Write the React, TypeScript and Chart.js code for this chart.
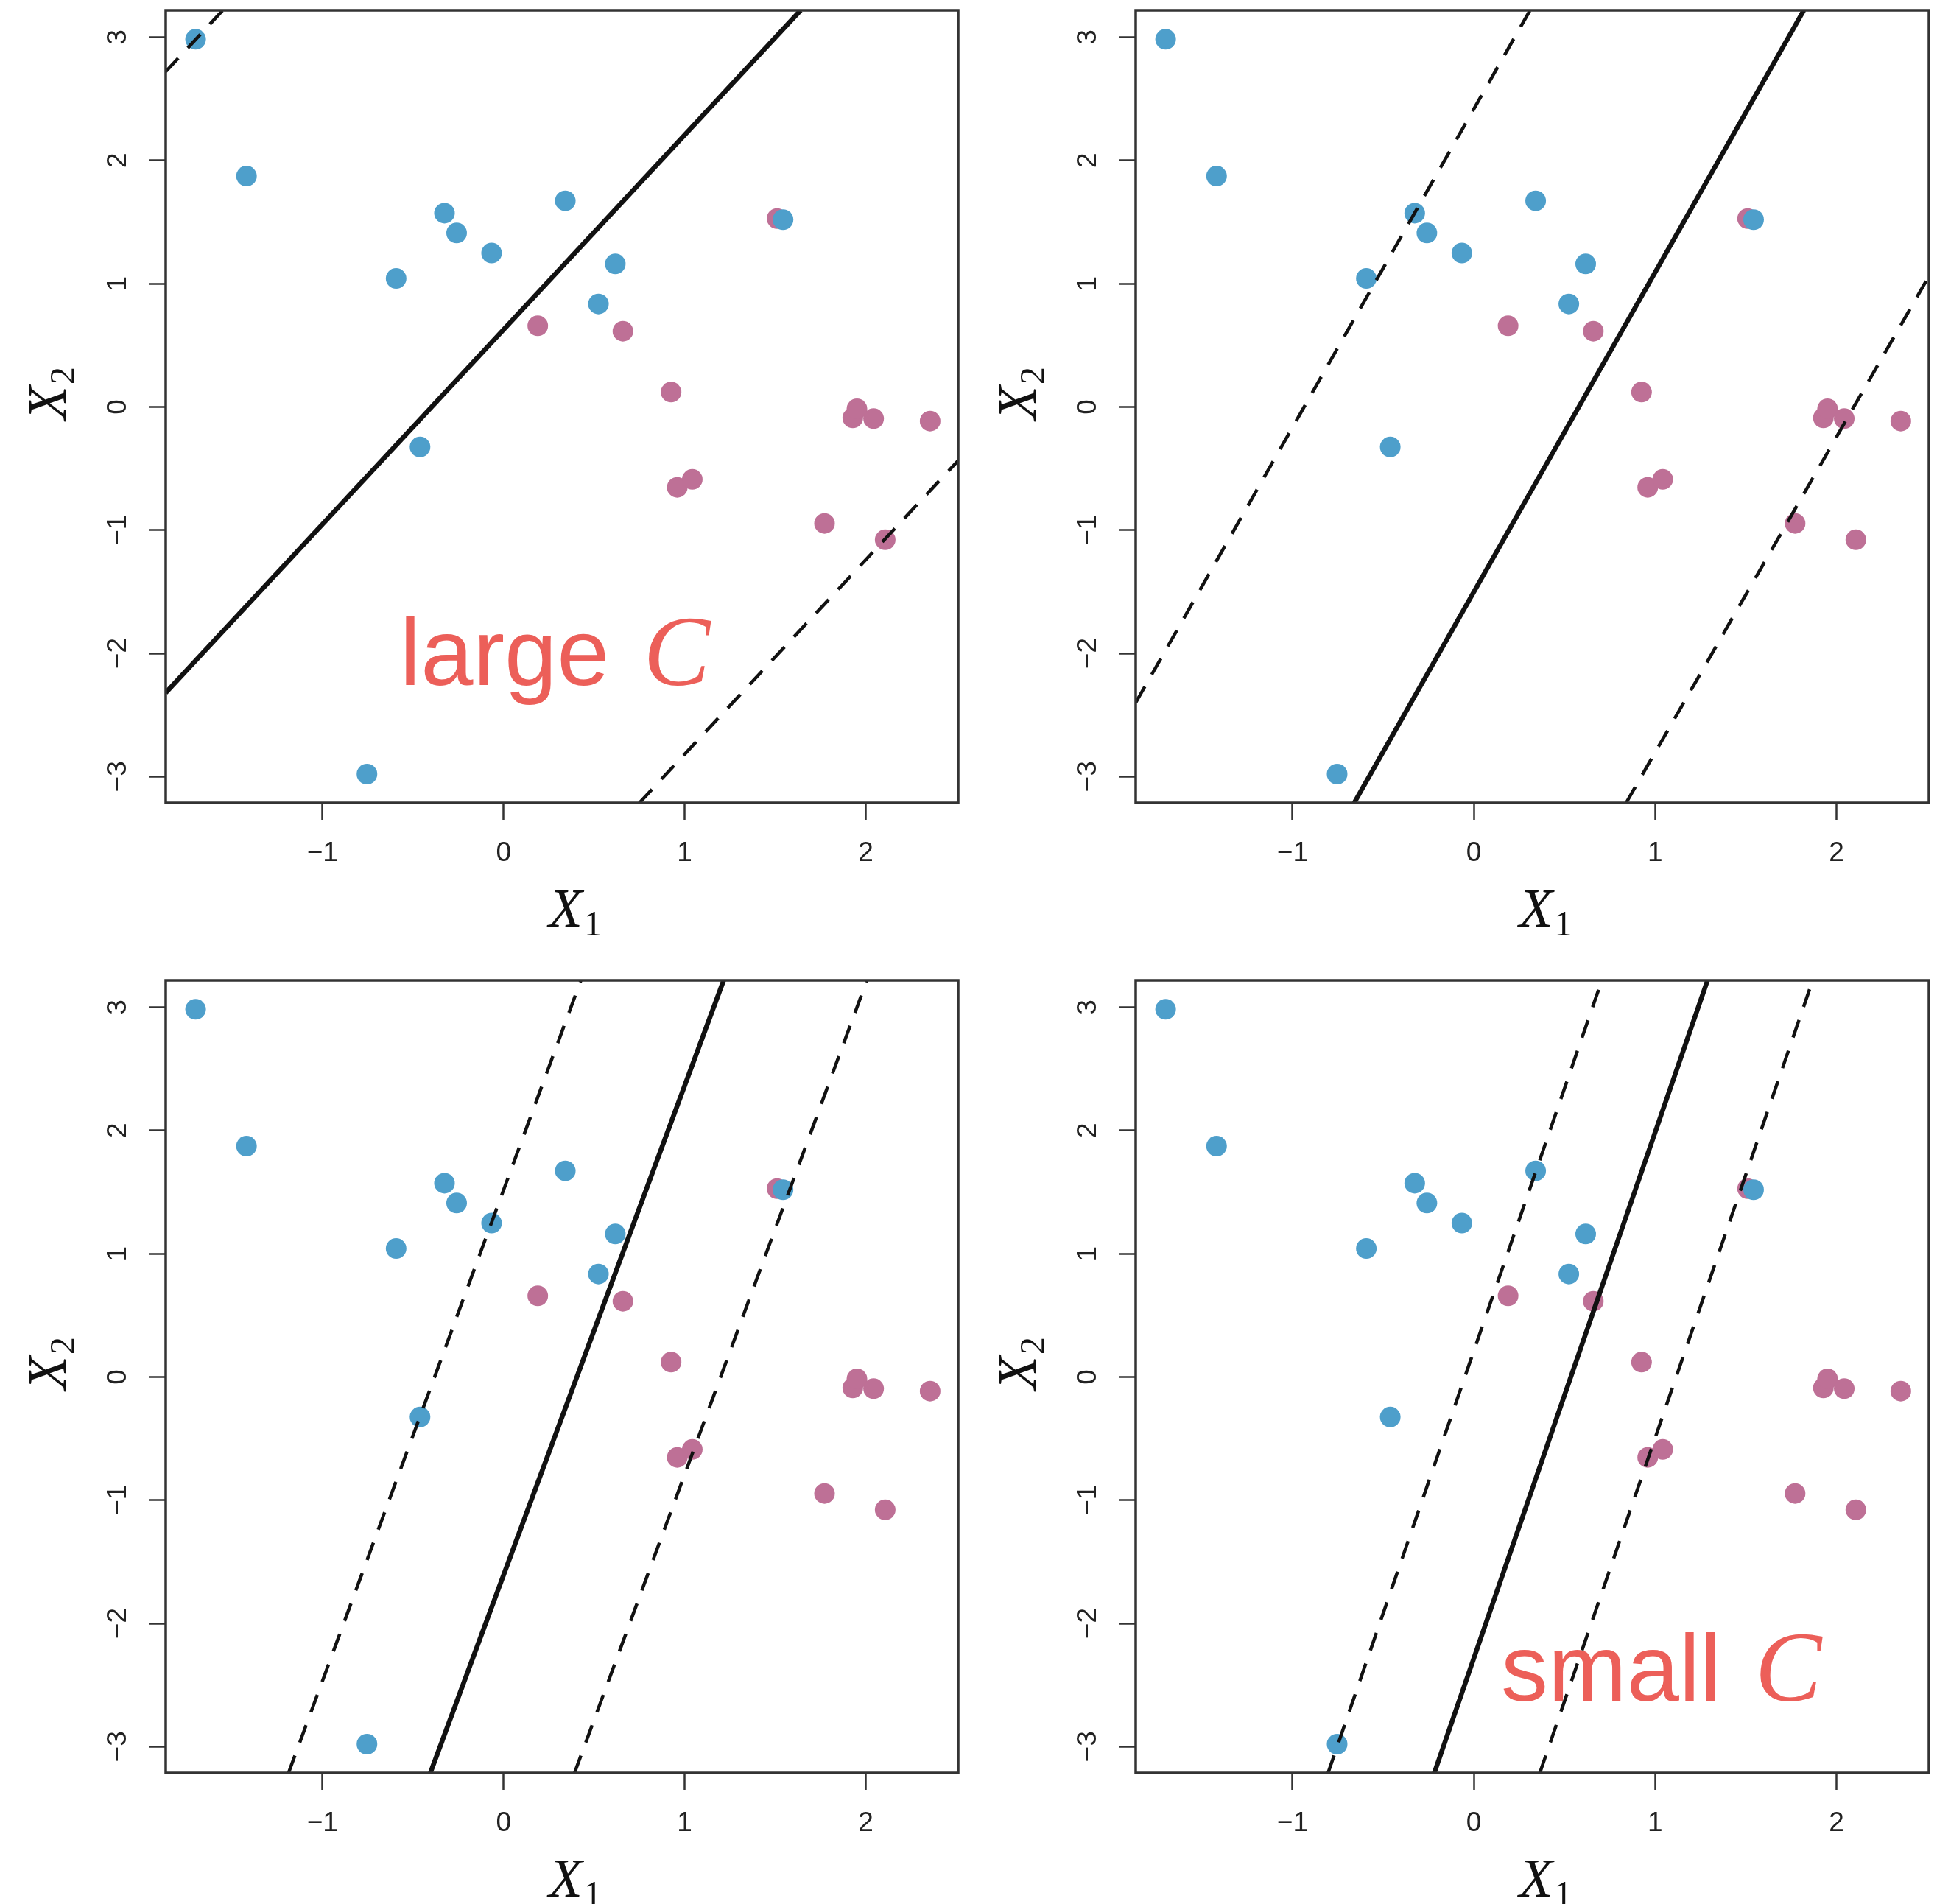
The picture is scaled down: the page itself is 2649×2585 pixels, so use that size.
import React, { useEffect, useRef } from "react";
import { Chart, registerables } from "chart.js";

Chart.register(...registerables);

// ---------- data ----------
const blueX = [-1.7, -1.419, -0.326, -0.259, -0.066, -0.593, 0.341, 0.617, 0.524, 1.543, -0.461, -0.754];
const blueY = [2.983, 1.873, 1.572, 1.411, 1.248, 1.042, 1.672, 1.16, 0.835, 1.519, -0.325, -2.98];
const redX = [0.189, 0.659, 0.925, 0.959, 1.042, 1.51, 1.928, 1.951, 2.043, 2.355, 1.772, 2.107];
const redY = [0.658, 0.614, 0.12, -0.653, -0.588, 1.528, -0.089, -0.016, -0.095, -0.115, -0.946, -1.078];

const xTicks = [-1, 0, 1, 2];
const yTicks = [-3, -2, -1, 0, 1, 2, 3];
const xLimits = [-1.865, 2.51];
const yLimits = [-3.213, 3.218];

// separating hyperplane (solid) and margins (dashed): endpoints
const p1SolidX = [-1.865, 1.64];
const p1SolidY = [-2.32, 3.218];
const p1UpperX = [-1.865, -1.55];
const p1UpperY = [2.72, 3.218];
const p1LowerX = [0.75, 2.51];
const p1LowerY = [-3.213, -0.435];

const p2SolidX = [-0.66, 1.82];
const p2SolidY = [-3.213, 3.218];
const p2UpperX = [-1.865, 0.31];
const p2UpperY = [-2.4, 3.218];
const p2LowerX = [0.84, 2.51];
const p2LowerY = [-3.213, 1.06];

const p3SolidX = [-0.404, 1.215];
const p3SolidY = [-3.213, 3.218];
const p3UpperX = [-1.187, 0.427];
const p3UpperY = [-3.213, 3.218];
const p3LowerX = [0.392, 2.006];
const p3LowerY = [-3.213, 3.218];

const p4SolidX = [-0.218, 1.289];
const p4SolidY = [-3.213, 3.218];
const p4UpperX = [-0.804, 0.706];
const p4UpperY = [-3.213, 3.218];
const p4LowerX = [0.364, 1.869];
const p4LowerY = [-3.213, 3.218];

// ---------- styles ----------
const BLUE = "#4E9FCB";
const PINK = "#BE7096";
const NOTE_COLOR = "#EC5F59";
const AXIS_COLOR = "#333333";

type Note = { word: string; x: number; y: number } | null;

const panels = [
  { left: 0, top: 0, width: 1324, height: 1300, yAxisW: 225, padTop: 14, padRight: 23, xAxisH: 210,
    solid: [p1SolidX, p1SolidY], upper: [p1UpperX, p1UpperY], lower: [p1LowerX, p1LowerY],
    note: { word: "large", x: -0.573, y: -2.257 } as Note },
  { left: 1324, top: 0, width: 1325, height: 1300, yAxisW: 218, padTop: 14, padRight: 30, xAxisH: 210,
    solid: [p2SolidX, p2SolidY], upper: [p2UpperX, p2UpperY], lower: [p2LowerX, p2LowerY],
    note: null as Note },
  { left: 0, top: 1300, width: 1324, height: 1285, yAxisW: 225, padTop: 31, padRight: 23, xAxisH: 178,
    solid: [p3SolidX, p3SolidY], upper: [p3UpperX, p3UpperY], lower: [p3LowerX, p3LowerY],
    note: null as Note },
  { left: 1324, top: 1300, width: 1325, height: 1285, yAxisW: 218, padTop: 31, padRight: 30, xAxisH: 178,
    solid: [p4SolidX, p4SolidY], upper: [p4UpperX, p4UpperY], lower: [p4LowerX, p4LowerY],
    note: { word: "small", x: 0.15, y: -2.626 } as Note },
];

const fmt = (v: number) => (v < 0 ? "\u2212" + Math.abs(v) : String(v));

function drawSubTitle(ctx: CanvasRenderingContext2D, main: string, sub: string) {
  ctx.font = 'italic 75px "Liberation Serif", "Times New Roman", serif';
  const wm = ctx.measureText(main).width;
  ctx.font = '48px "Liberation Serif", "Times New Roman", serif';
  const ws = ctx.measureText(sub).width;
  const start = -(wm + ws) / 2;
  ctx.font = 'italic 75px "Liberation Serif", "Times New Roman", serif';
  ctx.fillText(main, start, 0);
  ctx.font = '48px "Liberation Serif", "Times New Roman", serif';
  ctx.fillText(sub, start + wm + 2, 12);
}

function makeDecor(note: Note) {
  return {
    id: "decor",
    beforeDatasetsDraw(chart: any) {
      if (!note) return;
      const { ctx } = chart;
      const px = chart.scales.x.getPixelForValue(note.x);
      const py = chart.scales.y.getPixelForValue(note.y);
      ctx.save();
      ctx.fillStyle = NOTE_COLOR;
      ctx.textAlign = "left";
      ctx.textBaseline = "alphabetic";
      ctx.font = '128px "Liberation Sans", Arial, sans-serif';
      ctx.fillText(note.word, px, py);
      const w = ctx.measureText(note.word).width;
      ctx.font = 'italic 136px "Liberation Serif", "Times New Roman", serif';
      ctx.fillText("C", px + w + 46, py);
      ctx.restore();
    },
    afterDraw(chart: any) {
      const { ctx, chartArea: a } = chart;
      ctx.save();
      ctx.strokeStyle = AXIS_COLOR;
      ctx.lineWidth = 3.5;
      ctx.strokeRect(a.left, a.top, a.right - a.left, a.bottom - a.top);
      ctx.fillStyle = "#111";
      ctx.textAlign = "left";
      ctx.textBaseline = "alphabetic";
      // x title
      ctx.save();
      ctx.translate((a.left + a.right) / 2 + 17, a.bottom + 168);
      drawSubTitle(ctx, "X", "1");
      ctx.restore();
      // y title
      ctx.save();
      ctx.translate(a.left - 136, (a.top + a.bottom) / 2 - 17);
      ctx.rotate(-Math.PI / 2);
      drawSubTitle(ctx, "X", "2");
      ctx.restore();
      ctx.restore();
    },
  };
}

function linePts(xs: number[], ys: number[]) {
  return xs.map((x, i) => ({ x, y: ys[i] }));
}

function Panel({ cfg }: { cfg: (typeof panels)[number] }) {
  const ref = useRef<HTMLCanvasElement | null>(null);
  useEffect(() => {
    if (!ref.current) return;
    const tickFont = { family: '"Liberation Sans", Arial, sans-serif', size: 37 };
    const zeroPad = (s: any) => {
      s.paddingTop = 0;
      s.paddingBottom = 0;
      s.paddingLeft = 0;
      s.paddingRight = 0;
    };
    const chart = new Chart(ref.current, {
      type: "scatter",
      data: {
        datasets: [
          { label: "solid", data: linePts(cfg.solid[0], cfg.solid[1]), showLine: true, pointRadius: 0,
            borderColor: "#111", borderWidth: 6.5, order: 0 } as any,
          { label: "upper", data: linePts(cfg.upper[0], cfg.upper[1]), showLine: true, pointRadius: 0,
            borderColor: "#111", borderWidth: 4.5, borderDash: [25, 19], order: 0 } as any,
          { label: "lower", data: linePts(cfg.lower[0], cfg.lower[1]), showLine: true, pointRadius: 0,
            borderColor: "#111", borderWidth: 4.5, borderDash: [25, 19], order: 0 } as any,
          { label: "blue", data: linePts(blueX, blueY), pointRadius: 14, pointBackgroundColor: BLUE,
            pointBorderWidth: 0, borderWidth: 0, order: 1 } as any,
          { label: "red", data: linePts(redX, redY), pointRadius: 14, pointBackgroundColor: PINK,
            pointBorderWidth: 0, borderWidth: 0, order: 2 } as any,
        ],
      },
      options: {
        responsive: false,
        animation: false,
        events: [],
        layout: { padding: { left: 0, top: cfg.padTop, right: cfg.padRight, bottom: 0 } },
        plugins: { legend: { display: false }, tooltip: { enabled: false }, title: { display: false } },
        scales: {
          x: {
            type: "linear",
            position: "bottom",
            min: xLimits[0],
            max: xLimits[1],
            afterBuildTicks: (s: any) => {
              s.ticks = xTicks.map((v) => ({ value: v }));
            },
            afterFit: (s: any) => {
              s.height = cfg.xAxisH;
              zeroPad(s);
            },
            grid: { display: true, drawOnChartArea: false, drawTicks: true, tickLength: 23,
              tickColor: AXIS_COLOR, tickWidth: 2.5 },
            border: { display: false },
            ticks: { autoSkip: false, padding: 24, color: "#222", font: tickFont, maxRotation: 0,
              callback: (v: any) => fmt(Number(v)) },
          },
          y: {
            type: "linear",
            position: "left",
            min: yLimits[0],
            max: yLimits[1],
            afterBuildTicks: (s: any) => {
              s.ticks = yTicks.map((v) => ({ value: v }));
            },
            afterFit: (s: any) => {
              s.width = cfg.yAxisW;
              zeroPad(s);
            },
            grid: { display: true, drawOnChartArea: false, drawTicks: true, tickLength: 23,
              tickColor: AXIS_COLOR, tickWidth: 2.5 },
            border: { display: false },
            ticks: { autoSkip: false, padding: 20, color: "#222", font: tickFont, minRotation: 90,
              maxRotation: 90, crossAlign: "center", callback: (v: any) => fmt(Number(v)) },
          },
        },
      } as any,
      plugins: [makeDecor(cfg.note)],
    });
    return () => chart.destroy();
  }, [cfg]);
  return (
    <canvas
      ref={ref}
      width={cfg.width}
      height={cfg.height}
      style={{ position: "absolute", left: cfg.left, top: cfg.top, width: cfg.width, height: cfg.height }}
    />
  );
}

export default function App() {
  return (
    <div style={{ position: "absolute", left: 0, top: 0, width: 2649, height: 2585, background: "#fff", overflow: "hidden" }}>
      {panels.map((p, i) => (
        <Panel key={i} cfg={p} />
      ))}
    </div>
  );
}
